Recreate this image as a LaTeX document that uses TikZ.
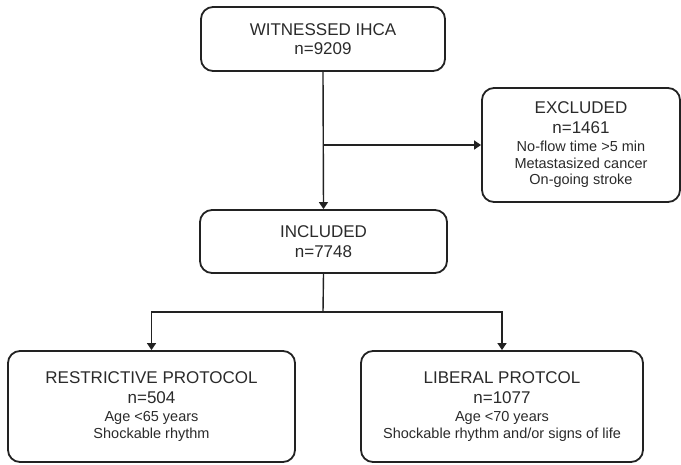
\documentclass[tikz,border=0pt]{standalone}
\usepackage{fontspec}
\setmainfont{Liberation Sans}
\usetikzlibrary{arrows.meta}
\definecolor{boxline}{HTML}{222222}
\definecolor{txt}{HTML}{2A2A2A}
\tikzset{
  flowbox/.style={draw=boxline, line width=1.8pt, rounded corners=12pt, rectangle,
    inner sep=0pt, align=center, text=txt, font=\fontsize{17}{19.5}\selectfont},
  conn/.style={draw=boxline, line width=1.4pt},
  arr/.style={conn, -{Triangle[length=7pt,width=9pt]}},
}
\newcommand{\sm}[1]{{\fontsize{14.5}{16.5}\selectfont #1}}
\begin{document}
\begin{tikzpicture}[x=1pt,y=-1pt]
\useasboundingbox (0,0) rectangle (681,464);
\node[flowbox, minimum width=244pt, minimum height=64pt] (top) at (323,39)
  {WITNESSED IHCA\\n=9209};
\node[flowbox, minimum width=198pt, minimum height=114pt] (excl) at (581,145)
  {EXCLUDED\\n=1461\\[-1pt]\sm{No-flow time >5 min}\\[-3pt]\sm{Metastasized cancer}\\[-3pt]\sm{On-going stroke}};
\node[flowbox, minimum width=247pt, minimum height=63pt] (incl) at (323.5,241.5)
  {INCLUDED\\n=7748};
\node[flowbox, minimum width=287pt, minimum height=111pt] (restr) at (151.5,406.5)
  {RESTRICTIVE PROTOCOL\\n=504\\[-1pt]\sm{Age <65 years}\\[-3pt]\sm{Shockable rhythm}};
\node[flowbox, minimum width=282pt, minimum height=111pt] (lib) at (502,406.5)
  {LIBERAL PROTCOL\\n=1077\\[-1pt]\sm{Age <70 years}\\[-3pt]\sm{Shockable rhythm and/or signs of life}};
\coordinate (j) at (323,145);
\coordinate (split) at (323,312);
\draw[arr] (top.south) -- (incl.north);
\draw[arr] (j) -- (excl.west);
\draw[conn] (incl.south) -- (split);
\draw[arr] (split) -| (restr.north);
\draw[arr] (split) -| (lib.north);
\end{tikzpicture}
\end{document}
